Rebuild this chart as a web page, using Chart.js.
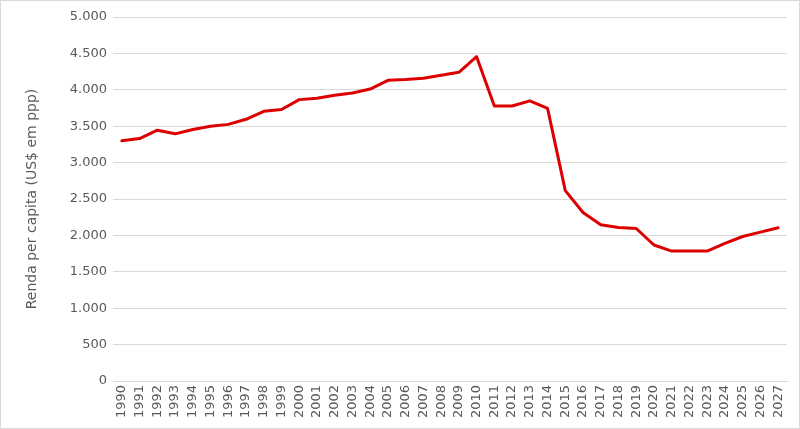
<!DOCTYPE html>
<html>
<head>
<meta charset="utf-8">
<script src="https://cdn.jsdelivr.net/npm/chart.js@4"></script>
<style>
html,body{margin:0;padding:0;background:#fff;}
#wrap{width:800px;height:429px;position:relative;}
</style>
</head>
<body>
<div id="wrap"><canvas id="c" width="800" height="429"></canvas></div>
<script>
const years = ["1990","1991","1992","1993","1994","1995","1996","1997","1998","1999",
"2000","2001","2002","2003","2004","2005","2006","2007","2008","2009",
"2010","2011","2012","2013","2014","2015","2016","2017","2018","2019",
"2020","2021","2022","2023","2024","2025","2026","2027"];
const rendaPerCapita = [3300,3330,3445,3395,3455,3500,3525,3595,3705,3730,
3865,3885,3925,3955,4010,4130,4140,4160,4200,4240,
4455,3778,3778,3848,3745,2615,2315,2145,2110,2095,
1868,1785,1785,1785,1890,1985,2045,2105];
const yTicks = [0,500,1000,1500,2000,2500,3000,3500,4000,4500,5000];
const yTitle = "Renda per capita (US$ em ppp)";

const fmt = v => v.toLocaleString('de-DE');

const frame = {
  id:'frame',
  beforeDraw(chart){
    const ctx = chart.ctx;
    ctx.save();
    ctx.fillStyle='#fff';
    ctx.fillRect(0,0,chart.width,chart.height);
    ctx.strokeStyle='#d9d9d9';
    ctx.lineWidth=1;
    ctx.strokeRect(0.5,0.5,chart.width-1,chart.height-1);
    ctx.restore();
  }
};

new Chart(document.getElementById('c'), {
  type:'line',
  data:{
    labels: years,
    datasets:[{
      data: rendaPerCapita,
      borderColor:'#dd0000',
      borderWidth:3,
      pointRadius:0,
      tension:0,
      borderJoinStyle:'round',
      borderCapStyle:'round',
      fill:false
    }]
  },
  options:{
    responsive:false,
    animation:false,
    layout:{padding:{left:24,right:13,top:17,bottom:0}},
    plugins:{legend:{display:false},tooltip:{enabled:false}},
    scales:{
      x:{
        offset:true,
        grid:{display:false,drawTicks:false},
        border:{display:true,color:'#d9d9d9',width:1},
        ticks:{
          autoSkip:false,maxRotation:90,minRotation:90,
          color:'#595959',font:{family:'DejaVu Sans',size:13},padding:4
        },
        afterFit(s){ s.height = 48; }
      },
      y:{
        min:0,max:5000,
        afterBuildTicks(s){ s.ticks = yTicks.map(v=>({value:v})); },
        grid:{color:'#d9d9d9',drawTicks:false,lineWidth:1},
        border:{display:false},
        ticks:{
          color:'#595959',font:{family:'DejaVu Sans',size:13},padding:6,
          callback:v=>fmt(v)
        },
        title:{display:true,text:yTitle,color:'#595959',font:{family:'DejaVu Sans',size:14},padding:0},
        afterFit(s){ s.width = 89; }
      }
    }
  },
  plugins:[frame]
});
</script>
</body>
</html>
